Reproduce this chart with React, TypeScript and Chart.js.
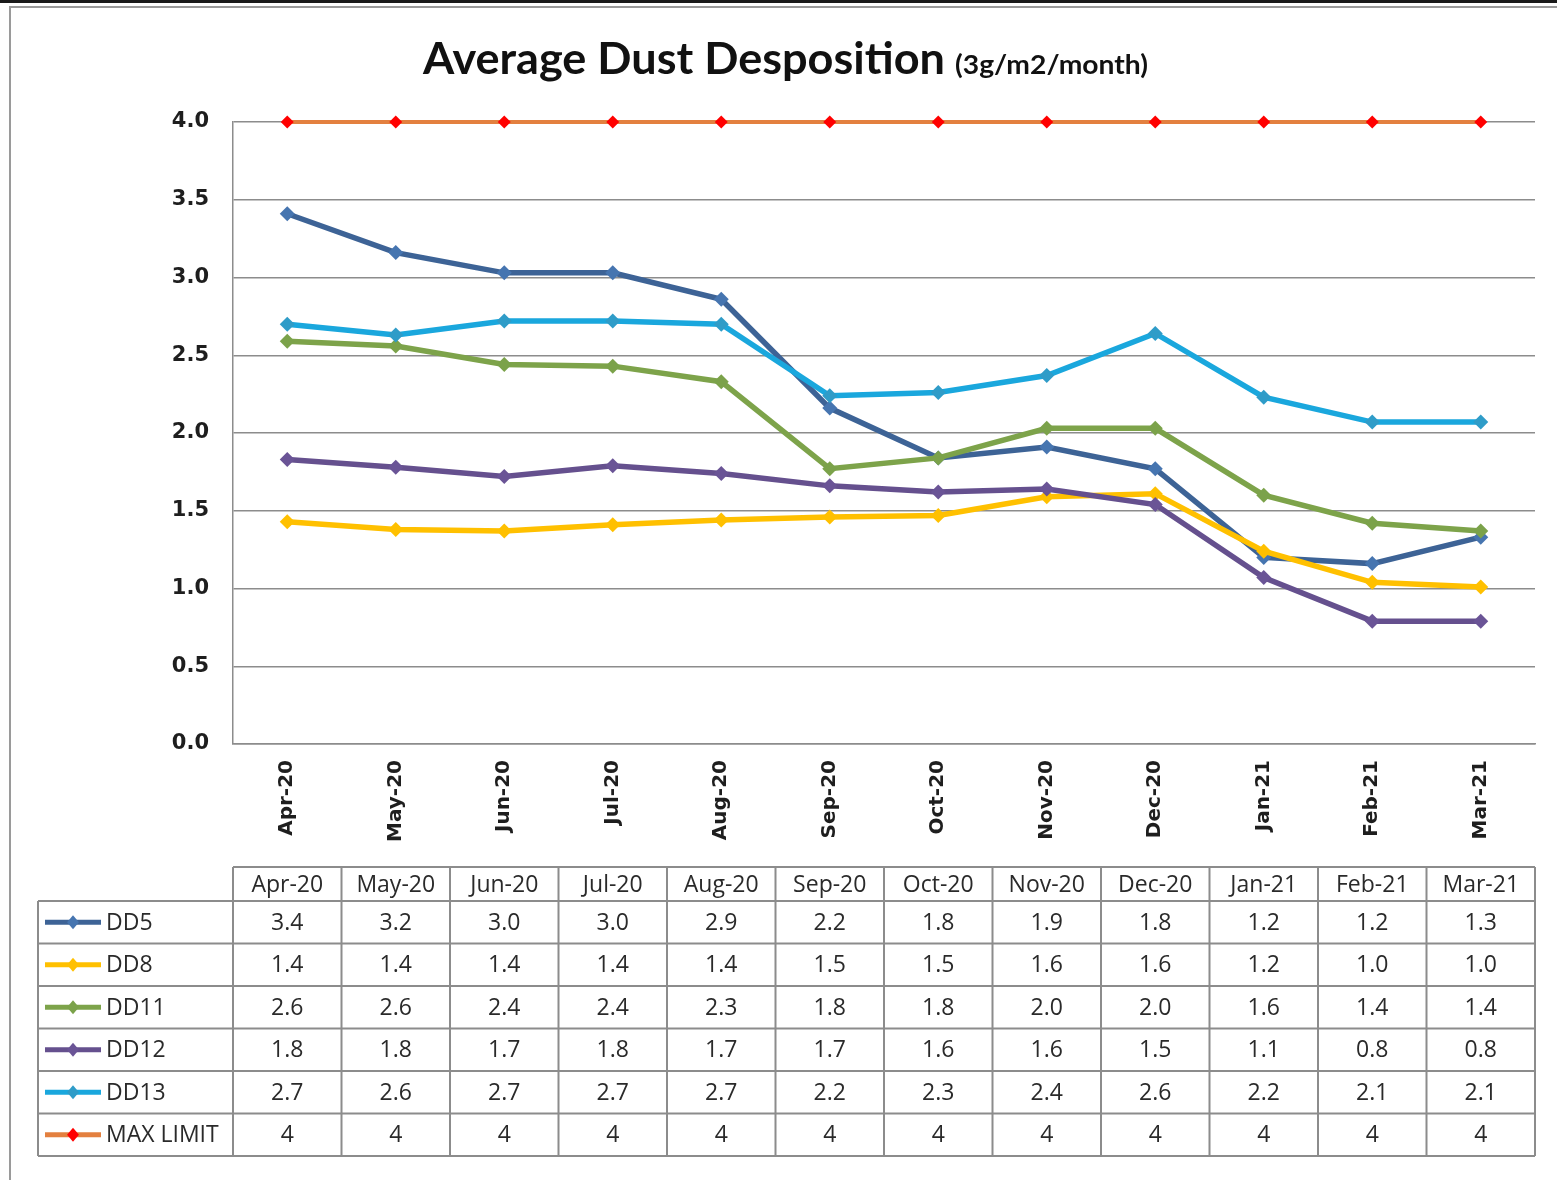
import React, { useEffect, useRef } from 'react';
import { Chart, registerables } from 'chart.js';

Chart.register(...registerables);

// ---------- data ----------
const categories = ['Apr-20', 'May-20', 'Jun-20', 'Jul-20', 'Aug-20', 'Sep-20', 'Oct-20', 'Nov-20', 'Dec-20', 'Jan-21', 'Feb-21', 'Mar-21'];
const seriesNames = ['DD5', 'DD8', 'DD11', 'DD12', 'DD13', 'MAX LIMIT'];
const dd5 = [3.41, 3.16, 3.03, 3.03, 2.86, 2.16, 1.84, 1.91, 1.77, 1.2, 1.16, 1.33];
const dd8 = [1.43, 1.38, 1.37, 1.41, 1.44, 1.46, 1.47, 1.59, 1.61, 1.24, 1.04, 1.01];
const dd11 = [2.59, 2.56, 2.44, 2.43, 2.33, 1.77, 1.84, 2.03, 2.03, 1.6, 1.42, 1.37];
const dd12 = [1.83, 1.78, 1.72, 1.79, 1.74, 1.66, 1.62, 1.64, 1.54, 1.07, 0.79, 0.79];
const dd13 = [2.7, 2.63, 2.72, 2.72, 2.7, 2.24, 2.26, 2.37, 2.64, 2.23, 2.07, 2.07];
const maxLimit = [4, 4, 4, 4, 4, 4, 4, 4, 4, 4, 4, 4];
const allSeries = [dd5, dd8, dd11, dd12, dd13, maxLimit];
const titleMain = 'Average Dust Desposition';
const titleSub = '(3g/m2/month)';

// ---------- styles ----------
const lineColors = ['#3D6396', '#FFC000', '#7DA34A', '#65508E', '#1AA7DD', '#E3803F'];
const markerColors = ['#4675B0', '#FFC000', '#7BA24A', '#6A5496', '#2F9CC8', '#FF0000'];
const W = 1557;
const H = 1180;

const fmt = (v: number, isMax: boolean) => (isMax ? String(v) : v.toFixed(1));

function drawDiamond(ctx: CanvasRenderingContext2D, x: number, y: number, r: number, color: string) {
  ctx.beginPath();
  ctx.moveTo(x, y - r);
  ctx.lineTo(x + r * 0.85, y);
  ctx.lineTo(x, y + r);
  ctx.lineTo(x - r * 0.85, y);
  ctx.closePath();
  ctx.fillStyle = color;
  ctx.fill();
}

const decorPlugin = {
  id: 'decor',
  beforeDraw(chart: any) {
    const { ctx } = chart;
    ctx.save();
    ctx.fillStyle = '#ffffff';
    ctx.fillRect(0, 0, W, H);
    // screenshot top border
    ctx.fillStyle = '#1a1a1a';
    ctx.fillRect(0, 0, W, 3);
    // frame
    ctx.strokeStyle = '#9a9a9a';
    ctx.lineWidth = 2;
    ctx.beginPath();
    ctx.moveTo(10, H);
    ctx.lineTo(10, 7);
    ctx.lineTo(W, 7);
    ctx.stroke();
    ctx.restore();
  },
  afterDraw(chart: any) {
    const { ctx, chartArea } = chart;
    const xScale = chart.scales.x;
    ctx.save();

    // ---- title ----
    ctx.fillStyle = '#111111';
    ctx.textBaseline = 'alphabetic';
    ctx.textAlign = 'left';
    ctx.font = 'bold 43px Lato';
    const mw = ctx.measureText(titleMain).width;
    ctx.save();
    ctx.translate(423, 74);
    ctx.scale(522 / mw, 1);
    ctx.fillText(titleMain, 0, 0);
    ctx.restore();
    ctx.font = 'bold 27px Lato';
    const sw = ctx.measureText(titleSub).width;
    ctx.save();
    ctx.translate(955, 74);
    ctx.scale(193 / sw, 1);
    ctx.fillText(titleSub, 0, 0);
    ctx.restore();

    // ---- data table ----
    const left = chartArea.left;
    const right = chartArea.right;
    const colW = (right - left) / categories.length;
    const tableLeft = 38;
    const headTop = 867;
    const headBottom = 901;
    const rowH = 42.5;
    const nRows = seriesNames.length;
    const tableBottom = headBottom + rowH * nRows;

    ctx.strokeStyle = '#8c8c8c';
    ctx.lineWidth = 2;
    ctx.beginPath();
    ctx.moveTo(left, headTop);
    ctx.lineTo(right, headTop);
    for (let r = 0; r <= nRows; r++) {
      const y = headBottom + r * rowH;
      ctx.moveTo(tableLeft, y);
      ctx.lineTo(right, y);
    }
    ctx.moveTo(tableLeft, headBottom);
    ctx.lineTo(tableLeft, tableBottom);
    for (let c = 0; c <= categories.length; c++) {
      const x = left + c * colW;
      ctx.moveTo(x, headTop);
      ctx.lineTo(x, tableBottom);
    }
    ctx.stroke();

    ctx.font = '23px "Open Sans"';
    ctx.fillStyle = '#2a2a2a';
    ctx.textAlign = 'center';
    ctx.textBaseline = 'middle';
    categories.forEach((c, i) => {
      const cx = xScale.getPixelForValue(i);
      ctx.fillText(c, cx, (headTop + headBottom) / 2 + 1);
    });

    allSeries.forEach((vals, r) => {
      const cy = headBottom + rowH * (r + 0.5);
      const isMax = r === allSeries.length - 1;
      ctx.textAlign = 'center';
      ctx.fillStyle = '#2a2a2a';
      vals.forEach((v, i) => {
        const cx = xScale.getPixelForValue(i);
        ctx.fillText(fmt(v, isMax), cx, cy + 1);
      });
      // legend key
      ctx.strokeStyle = lineColors[r];
      ctx.lineWidth = 5;
      ctx.beginPath();
      ctx.moveTo(45, cy);
      ctx.lineTo(101, cy);
      ctx.stroke();
      drawDiamond(ctx, 73, cy, 7, markerColors[r]);
      ctx.textAlign = 'left';
      ctx.fillStyle = '#2a2a2a';
      ctx.fillText(seriesNames[r], 106, cy + 1);
    });

    ctx.restore();
  },
};

export default function App() {
  const canvasRef = useRef<HTMLCanvasElement | null>(null);

  useEffect(() => {
    if (!canvasRef.current) return;
    const n = allSeries.length;
    const chart = new Chart(canvasRef.current, {
      type: 'line',
      data: {
        labels: categories,
        datasets: allSeries.map((vals, i) => ({
          label: seriesNames[i],
          data: vals,
          borderColor: lineColors[i],
          backgroundColor: markerColors[i],
          borderWidth: i === n - 1 ? 4 : 5.5,
          pointStyle: 'rectRot',
          pointRadius: i === n - 1 ? 6.5 : 7.5,
          pointBackgroundColor: markerColors[i],
          pointBorderColor: markerColors[i],
          pointBorderWidth: 0,
          tension: 0,
          fill: false,
          clip: false,
          order: n - i,
        })),
      },
      options: {
        responsive: false,
        animation: false,
        devicePixelRatio: 1,
        layout: { padding: { top: 122, right: 22, bottom: 0, left: 0 } },
        plugins: {
          legend: { display: false },
          title: { display: false },
          tooltip: { enabled: false },
        },
        scales: {
          x: {
            offset: true,
            grid: { display: false, drawTicks: false },
            border: { display: true, color: '#8c8c8c', width: 1.5 },
            ticks: {
              autoSkip: false,
              minRotation: 90,
              maxRotation: 90,
              padding: 16,
              color: '#1e1e1e',
              font: { family: 'DejaVu Sans', weight: 'bold', size: 20 },
            },
            afterFit: (s: any) => {
              s.height = H - 744;
            },
          },
          y: {
            min: 0,
            max: 4,
            ticks: {
              stepSize: 0.5,
              padding: 24,
              color: '#1e1e1e',
              font: { family: 'DejaVu Sans', weight: 'bold', size: 21 },
              callback: (v: any) => Number(v).toFixed(1),
            },
            grid: { color: '#8c8c8c', lineWidth: 1.5, drawTicks: false },
            border: { display: true, color: '#8c8c8c', width: 1.5 },
            afterFit: (s: any) => {
              s.width = 233;
            },
          },
        },
      },
      plugins: [decorPlugin],
    } as any);
    return () => chart.destroy();
  }, []);

  return (
    <div style={{ position: 'absolute', left: 0, top: 0, width: W, height: H }}>
      <canvas ref={canvasRef} width={W} height={H} style={{ width: W, height: H, display: 'block' }} />
    </div>
  );
}
